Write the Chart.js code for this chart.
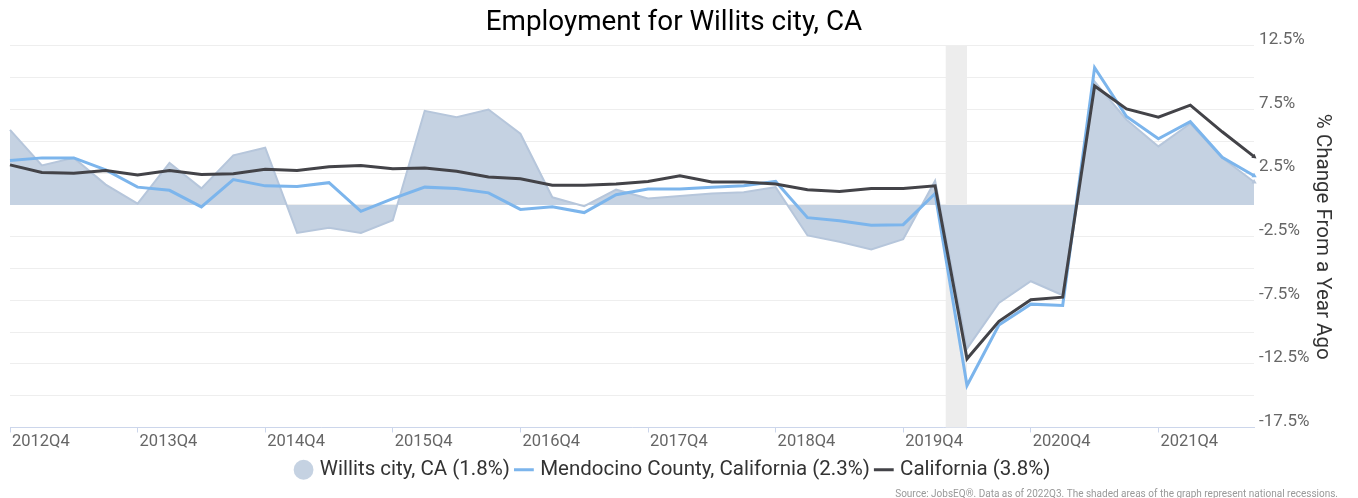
<!DOCTYPE html>
<html>
<head>
<meta charset="utf-8">
<title>Employment for Willits city, CA</title>
<script src="https://cdn.jsdelivr.net/npm/chart.js@4"></script>
<style>
    html, body { margin: 0; padding: 0; background: #fff; }
    #wrap { width: 1358px; height: 498px; }
</style>
</head>
<body>
<div id="wrap"><canvas id="employmentChart" width="1358" height="498"></canvas></div>
<script>
// Quarters shown on the x axis
const quarters = [
    '2012Q4',
    '2013Q1', '2013Q2', '2013Q3', '2013Q4',
    '2014Q1', '2014Q2', '2014Q3', '2014Q4',
    '2015Q1', '2015Q2', '2015Q3', '2015Q4',
    '2016Q1', '2016Q2', '2016Q3', '2016Q4',
    '2017Q1', '2017Q2', '2017Q3', '2017Q4',
    '2018Q1', '2018Q2', '2018Q3', '2018Q4',
    '2019Q1', '2019Q2', '2019Q3', '2019Q4',
    '2020Q1', '2020Q2', '2020Q3', '2020Q4',
    '2021Q1', '2021Q2', '2021Q3', '2021Q4',
    '2022Q1', '2022Q2', '2022Q3'
];

// % change from a year ago
const willits = [
    5.9, 3.1, 3.7, 1.6, 0.1, 3.3, 1.3, 3.9, 4.5, -2.2,
    -1.8, -2.2, -1.2, 7.4, 6.9, 7.5, 5.6, 0.6, -0.1, 1.2,
    0.5, 0.7, 0.9, 1.0, 1.4, -2.4, -2.9, -3.5, -2.7, 1.9,
    -11.3, -7.7, -6.0, -7.1, 9.7, 6.7, 4.6, 6.4, 3.7, 1.8
];
const mendocino = [
    3.5, 3.7, 3.7, 2.75, 1.4, 1.15, -0.15, 2.0, 1.5, 1.45,
    1.75, -0.5, 0.5, 1.4, 1.3, 0.95, -0.35, -0.15, -0.6, 0.8,
    1.25, 1.25, 1.4, 1.5, 1.85, -1.0, -1.25, -1.6, -1.55, 0.9,
    -14.2, -9.45, -7.8, -7.9, 10.8, 6.95, 5.2, 6.55, 3.75, 2.3
];
const california = [
    3.15, 2.55, 2.5, 2.7, 2.35, 2.7, 2.4, 2.45, 2.8, 2.7,
    3.0, 3.1, 2.85, 2.9, 2.65, 2.2, 2.05, 1.55, 1.55, 1.65,
    1.85, 2.3, 1.8, 1.8, 1.65, 1.2, 1.05, 1.3, 1.3, 1.5,
    -12.1, -9.15, -7.45, -7.25, 9.35, 7.55, 6.9, 7.85, 5.75, 3.8
];

// Labelled y ticks (gridlines every 2.5%)
const yLabels = [12.5, 7.5, 2.5, -2.5, -7.5, -12.5, -17.5];

// National recessions, [start month, end month]
const recessions = [['2020-02', '2020-04']];

const AREA_FILL = '#c5d2e2';
const AXIS_COLOR = '#ccd6eb';

// month 'YYYY-MM' -> fractional index on the quarter axis
function monthToIndex(m) {
    const [y, mo] = m.split('-').map(Number);
    const first = quarters[0];
    const fy = Number(first.slice(0, 4));
    const fq = Number(first.slice(5));
    return (y - fy) * 4 + (mo - 1) / 3 - (fq - 1);
}

const recessionPlugin = {
    id: 'recessionBands',
    beforeDatasetsDraw(chart) {
        const { ctx, chartArea, scales: { x } } = chart;
        ctx.save();
        ctx.fillStyle = '#ededed';
        recessions.forEach(([s, e]) => {
            const x0 = x.getPixelForValue(monthToIndex(s));
            const x1 = x.getPixelForValue(monthToIndex(e));
            ctx.fillRect(x0, chartArea.top, x1 - x0, chartArea.bottom - chartArea.top);
        });
        ctx.restore();
    }
};

Chart.defaults.font.family = "Roboto, 'Noto Sans', sans-serif";

const lastIdx = quarters.length - 1;
const endMarker = (ctx) => ctx.dataIndex === lastIdx ? 3 : 0;

new Chart(document.getElementById('employmentChart'), {
    type: 'line',
    data: {
        labels: quarters,
        datasets: [
            {
                label: 'Willits city, CA',
                data: willits,
                fill: 'origin',
                backgroundColor: AREA_FILL,
                borderColor: '#b6c6db',
                borderWidth: 2,
                pointStyle: 'triangle',
                pointRotation: 120,
                pointRadius: endMarker,
                pointBackgroundColor: '#b6c6db',
                pointBorderWidth: 0,
                order: 3
            },
            {
                label: 'Mendocino County, California',
                data: mendocino,
                fill: false,
                borderColor: '#7cb5ec',
                backgroundColor: '#7cb5ec',
                borderWidth: 3,
                pointStyle: 'triangle',
                pointRotation: 120,
                pointRadius: endMarker,
                pointBorderWidth: 0,
                order: 2
            },
            {
                label: 'California',
                data: california,
                fill: false,
                borderColor: '#434348',
                backgroundColor: '#434348',
                borderWidth: 3,
                pointStyle: 'triangle',
                pointRotation: 128,
                pointRadius: endMarker,
                pointBorderWidth: 0,
                order: 1
            }
        ]
    },
    options: {
        responsive: false,
        animation: false,
        layout: { padding: { left: 10, right: 20, top: 0, bottom: 0 } },
        elements: { line: { tension: 0 } },
        plugins: {
            title: {
                display: true,
                text: 'Employment for Willits city, CA',
                color: '#000',
                font: { size: 27.8, weight: 'normal' },
                padding: { top: 6, bottom: 6.6 }
            },
            subtitle: {
                display: true,
                position: 'bottom',
                align: 'end',
                text: 'Source: JobsEQ®. Data as of 2022Q3. The shaded areas of the graph represent national recessions.',
                color: '#999',
                font: { size: 10, lineHeight: 0.8 },
                padding: { top: 0, bottom: 0 }
            },
            legend: {
                position: 'bottom',
                labels: {
                    usePointStyle: true,
                    boxWidth: 12,
                    boxHeight: 14,
                    color: '#333',
                    font: { size: 20.5 },
                    padding: 8,
                    generateLabels: (chart) => chart.data.datasets.map((ds, i) => ({
                        text: `${ds.label} (${ds.data[ds.data.length - 1].toFixed(1)}%)`,
                        fillStyle: i === 0 ? AREA_FILL : ds.borderColor,
                        strokeStyle: i === 0 ? AREA_FILL : ds.borderColor,
                        lineWidth: i === 0 ? 0 : 3,
                        pointStyle: i === 0 ? 'circle' : 'line',
                        hidden: !chart.isDatasetVisible(i),
                        datasetIndex: i,
                        fontColor: '#333'
                    }))
                }
            },
            tooltip: { enabled: false }
        },
        scales: {
            x: {
                offset: false,
                afterBuildTicks: (scale) => {
                    scale.ticks = scale.ticks.filter(t => quarters[t.value].endsWith('Q4'));
                },
                grid: {
                    drawOnChartArea: false,
                    drawTicks: true,
                    tickLength: 5,
                    tickColor: AXIS_COLOR
                },
                border: { color: AXIS_COLOR, width: 1 },
                ticks: {
                    autoSkip: false,
                    maxRotation: 0,
                    align: 'start',
                    labelOffset: 2,
                    padding: 2,
                    color: '#666',
                    font: { size: 16.5, lineHeight: '15px' }
                }
            },
            y: {
                position: 'right',
                min: -17.5,
                max: 12.5,
                grid: { color: '#eeeeee', drawTicks: false },
                border: { display: false },
                ticks: {
                    stepSize: 2.5,
                    padding: 5,
                    labelOffset: -6,
                    color: '#666',
                    font: { size: 17 },
                    callback: (v) => yLabels.some(l => Math.abs(l - v) < 1e-6) ? v.toFixed(1) + '%' : ''
                },
                title: {
                    display: true,
                    text: '% Change From a Year Ago',
                    color: '#333',
                    font: { size: 20.5 },
                    padding: { top: 4, bottom: -5 }
                }
            }
        }
    },
    plugins: [recessionPlugin]
});
</script>
</body>
</html>
